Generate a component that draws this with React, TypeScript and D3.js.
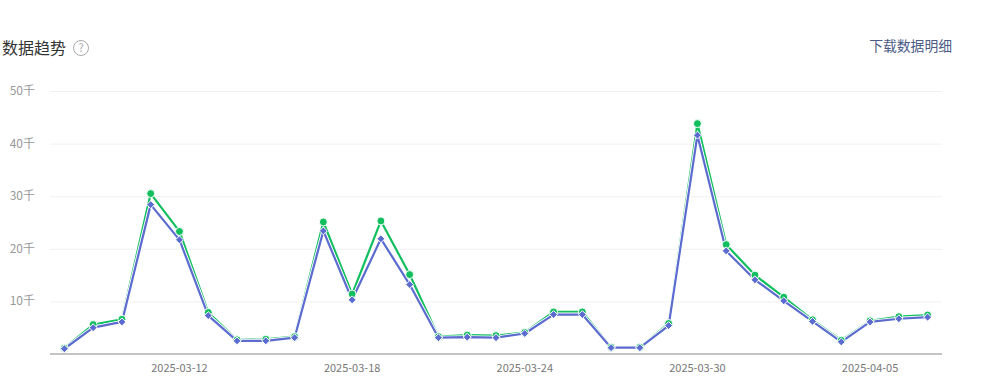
import { useEffect, useRef } from 'react'
import * as d3 from 'd3'

const W = 982
const H = 386
const X0 = 50
const X1 = 942
const Y_TOP = 91
const Y_BASE = 354

const GREEN = '#12bf5f'
const BLUE = '#5b6bd0'

// 2025-03-08 .. 2025-04-07
const dates = d3.timeDay
  .range(new Date(2025, 2, 8), new Date(2025, 3, 8))
  .map((d) => d3.timeFormat('%Y-%m-%d')(d))

// values in thousands
const greenValues = [
  1.1, 5.6, 6.6, 30.5, 23.3, 7.9, 2.7, 2.8, 3.3, 25.1, 11.4, 25.3, 15.1, 3.3, 3.6, 3.5,
  4.1, 8.0, 8.0, 1.3, 1.3, 5.8, 43.8, 20.8, 15.0, 10.8, 6.5, 2.6, 6.3, 7.1, 7.4,
]
const blueValues = [
  1.0, 5.0, 6.1, 28.4, 21.7, 7.3, 2.5, 2.5, 3.1, 23.4, 10.3, 21.9, 13.2, 3.1, 3.2, 3.1,
  3.9, 7.5, 7.5, 1.2, 1.2, 5.4, 41.6, 19.6, 14.1, 10.1, 6.2, 2.3, 6.1, 6.7, 7.0,
]
const yTicks = [10, 20, 30, 40, 50]
const xTickLabels = ['2025-03-12', '2025-03-18', '2025-03-24', '2025-03-30', '2025-04-05']

export default function App() {
  const ref = useRef<SVGSVGElement>(null)

  useEffect(() => {
    if (!ref.current) return
    const svg = d3.select(ref.current)
    svg.selectAll('*').remove()

    const x = d3.scalePoint<string>().domain(dates).range([X0, X1]).padding(0.5)
    const y = d3.scaleLinear().domain([0, 50]).range([Y_BASE, Y_TOP])

    // ── Header ────────────────────────────────────────────────────────────
    svg.append('text')
      .attr('x', 2).attr('y', 54)
      .attr('font-size', 16)
      .attr('fill', '#333')
      .text('数据趋势')

    svg.append('circle')
      .attr('cx', 81).attr('cy', 48).attr('r', 7.5)
      .attr('fill', 'none').attr('stroke', '#aaa').attr('stroke-width', 1)
    svg.append('text')
      .attr('x', 81).attr('y', 52)
      .attr('text-anchor', 'middle')
      .attr('font-size', 11)
      .attr('fill', '#aaa')
      .text('?')

    svg.append('text')
      .attr('x', 952).attr('y', 51)
      .attr('text-anchor', 'end')
      .attr('font-size', 13.8)
      .attr('fill', '#4b5b85')
      .text('下载数据明细')

    // ── Grid + y labels ──────────────────────────────────────────────────
    yTicks.forEach((t) => {
      svg.append('line')
        .attr('x1', X0).attr('x2', X1)
        .attr('y1', y(t) + 0.5).attr('y2', y(t) + 0.5)
        .attr('stroke', '#f0f0f0')
      svg.append('text')
        .attr('x', 35).attr('y', y(t) + 4)
        .attr('text-anchor', 'end')
        .attr('font-size', 12)
        .attr('fill', '#999')
        .text(`${t}千`)
    })

    // baseline
    svg.append('line')
      .attr('x1', X0).attr('x2', X1)
      .attr('y1', Y_BASE).attr('y2', Y_BASE)
      .attr('stroke', '#c4c4c4').attr('stroke-width', 2)

    xTickLabels.forEach((d) => {
      svg.append('text')
        .attr('x', x(d)!).attr('y', 372)
        .attr('text-anchor', 'middle')
        .attr('font-size', 11)
        .attr('fill', '#777')
        .text(d)
    })

    // ── Lines ────────────────────────────────────────────────────────────
    const line = d3.line<number>()
      .x((_, i) => x(dates[i])!)
      .y((v) => y(v))

    const drawSeries = (vals: number[], color: string) => {
      svg.append('path')
        .datum(vals)
        .attr('d', line)
        .attr('fill', 'none')
        .attr('stroke', '#fff')
        .attr('stroke-width', 4)
        .attr('stroke-linejoin', 'round')
      svg.append('path')
        .datum(vals)
        .attr('d', line)
        .attr('fill', 'none')
        .attr('stroke', color)
        .attr('stroke-width', 2.2)
        .attr('stroke-linejoin', 'round')
    }

    drawSeries(greenValues, GREEN)
    drawSeries(blueValues, BLUE)

    // green circles
    greenValues.forEach((v, i) => {
      svg.append('circle')
        .attr('cx', x(dates[i])!).attr('cy', y(v))
        .attr('r', 4)
        .attr('fill', GREEN)
        .attr('stroke', '#fff').attr('stroke-width', 1)
    })

    // blue diamonds
    const diamond = d3.symbol().type(d3.symbolDiamond2).size(40)
    blueValues.forEach((v, i) => {
      svg.append('path')
        .attr('d', diamond()!)
        .attr('transform', `translate(${x(dates[i])},${y(v)})`)
        .attr('fill', BLUE)
        .attr('stroke', '#fff').attr('stroke-width', 1)
    })
  }, [])

  return (
    <svg
      ref={ref}
      width={W}
      height={H}
      style={{ position: 'absolute', left: 0, top: 0, fontFamily: '"Noto Sans CJK SC", "Noto Sans", sans-serif' }}
    />
  )
}
